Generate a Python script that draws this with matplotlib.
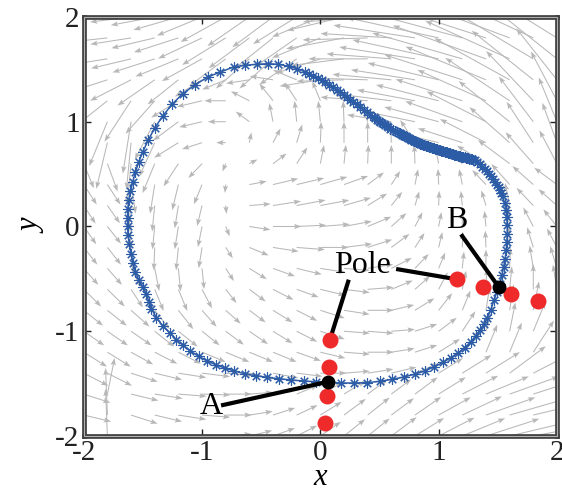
import numpy as np
import matplotlib
matplotlib.use("Agg")
import matplotlib.pyplot as plt
from matplotlib.patches import Rectangle

plt.rcParams['font.family'] = ['Liberation Serif', 'DejaVu Serif']
plt.rcParams['axes.unicode_minus'] = False

# quiver grid (x left->right, y top->bottom)
grid_x = [-2.0, -1.8, -1.6, -1.4, -1.2, -1.0, -0.8, -0.6, -0.4, -0.2, 0.0,
          0.2, 0.4, 0.6, 0.8, 1.0, 1.2, 1.4, 1.6, 1.8, 2.0]
grid_y = [2.0, 1.8, 1.6, 1.4, 1.2, 1.0, 0.8, 0.6, 0.4, 0.2, 0.0,
          -0.2, -0.4, -0.6, -0.8, -1.0, -1.2, -1.4, -1.6, -1.8, -2.0]

# arrow direction (degrees)
arrow_ang = [
    [185, 185, 188, 192, 198, 205, 212, 218, 220, 215, 205, 195, 185, 178, 172, 168, 165, 162, 160, 157, 152],
    [185, 187, 190, 195, 200, 208, 215, 220, 222, 218, 205, 192, 182, 176, 170, 166, 163, 160, 157, 152, 145],
    [188, 190, 195, 200, 205, 212, 220, 225, 225, 218, 200, 188, 180, 175, 170, 166, 162, 158, 153, 146, 138],
    [195, 200, 210, 218, 222, 215, 205, 190, 170, 155, 190, 182, 178, 174, 170, 165, 160, 155, 148, 138, 125],
    [205, 222, 240, 232, 215, 195, 180, 150, 125, 120, 110, 135, 175, 172, 168, 164, 160, 153, 143, 130, 115],
    [225, 250, 262, 245, 220, 195, 180, 140, 100, 95, 95, 92, 110, 170, 167, 163, 158, 150, 138, 124, 110],
    [240, 258, 265, 248, 215, 200, 180, 80, 65, 75, 88, 90, 90, 92, 120, 165, 160, 150, 135, 120, 108],
    [290, 288, 265, 250, 240, 230, 250, 30, 40, 60, 80, 85, 88, 90, 92, 100, 140, 145, 140, 128, 115],
    [300, 300, 278, 262, 258, 250, 265, 12, 15, 15, 18, 22, 40, 60, 80, 92, 100, 130, 128, 135, 140],
    [300, 302, 265, 265, 262, 258, 275, 5, 10, 12, 12, 18, 35, 55, 75, 88, 95, 105, 100, 130, 135],
    [302, 305, 268, 265, 262, 260, 290, 350, 0, 3, 5, 12, 25, 45, 65, 80, 90, 95, 95, 115, 125],
    [305, 305, 275, 268, 265, 262, 300, 335, 350, 355, 0, 8, 20, 40, 60, 78, 88, 92, 92, 105, 115],
    [308, 308, 295, 280, 275, 275, 300, 325, 338, 345, 350, 355, 10, 30, 50, 70, 85, 90, 88, 98, 105],
    [312, 312, 300, 290, 290, 295, 305, 320, 330, 338, 345, 352, 5, 25, 45, 65, 80, 88, 85, 90, 98],
    [318, 318, 315, 305, 305, 308, 315, 320, 325, 330, 340, 350, 0, 15, 35, 55, 70, 82, 82, 80, 85],
    [322, 322, 322, 318, 318, 318, 320, 322, 325, 330, 340, 355, 355, 5, 20, 40, 60, 75, 80, 70, 70],
    [325, 325, 328, 330, 330, 335, 335, 335, 335, 338, 345, 355, 0, 10, 20, 35, 55, 70, 70, 60, 55],
    [330, 330, 340, 345, 350, 352, 355, 345, 348, 352, 0, 5, 10, 15, 25, 35, 35, 35, 40, 30, 25],
    [340, 80, 345, 350, 355, 358, 0, 5, 15, 25, 30, 35, 40, 40, 40, 35, 30, 25, 22, 20, 18],
    [345, 92, 340, 345, 350, 355, 0, 10, 20, 28, 35, 40, 42, 40, 38, 32, 28, 22, 18, 15, 12],
    [350, 92, 340, 345, 350, 355, 5, 15, 22, 30, 38, 42, 42, 40, 35, 30, 25, 20, 15, 12, 10],
]

# arrow length as drawn (data units)
arrow_len = [
    [.35, .35, .35, .38, .40, .42, .45, .45, .45, .45, .45, .50, .55, .60, .70, .80, .85, .90, .90, .85, .75],
    [.35, .35, .35, .38, .40, .42, .45, .45, .45, .45, .45, .50, .55, .60, .70, .80, .85, .90, .85, .80, .70],
    [.35, .35, .35, .38, .40, .40, .40, .40, .40, .40, .40, .45, .50, .55, .65, .75, .80, .85, .80, .75, .65],
    [.35, .35, .40, .40, .35, .28, .22, .20, .20, .22, .35, .40, .45, .50, .55, .62, .70, .75, .75, .70, .60],
    [.35, .40, .45, .40, .28, .22, .18, .18, .20, .20, .20, .28, .40, .45, .50, .55, .60, .65, .68, .62, .52],
    [.35, .45, .50, .40, .28, .20, .15, .15, .18, .20, .20, .20, .20, .38, .42, .48, .52, .58, .58, .52, .45],
    [.38, .45, .45, .35, .25, .18, .08, .10, .15, .18, .20, .20, .20, .20, .25, .35, .40, .45, .48, .45, .40],
    [.25, .28, .40, .30, .25, .18, .08, .08, .15, .18, .18, .18, .18, .18, .18, .18, .25, .30, .35, .38, .35],
    [.22, .22, .28, .28, .25, .20, .08, .15, .22, .24, .24, .22, .18, .15, .15, .15, .15, .18, .25, .25, .25],
    [.20, .20, .25, .25, .22, .20, .08, .18, .24, .25, .25, .24, .20, .16, .14, .14, .14, .15, .22, .22, .22],
    [.20, .20, .22, .22, .22, .20, .10, .18, .24, .25, .25, .24, .22, .18, .15, .14, .14, .15, .20, .20, .20],
    [.20, .20, .22, .22, .22, .20, .12, .18, .22, .24, .24, .24, .22, .20, .16, .15, .15, .16, .20, .20, .20],
    [.20, .20, .20, .22, .22, .20, .14, .18, .20, .22, .22, .22, .22, .20, .18, .16, .16, .18, .20, .22, .22],
    [.22, .22, .20, .22, .22, .20, .16, .18, .20, .20, .22, .22, .22, .20, .18, .18, .18, .20, .22, .24, .24],
    [.22, .22, .22, .22, .22, .20, .18, .18, .20, .20, .22, .22, .22, .20, .20, .20, .20, .22, .25, .28, .28],
    [.22, .22, .22, .22, .22, .20, .20, .20, .20, .20, .22, .22, .22, .20, .20, .20, .22, .25, .28, .30, .30],
    [.24, .24, .22, .22, .22, .22, .22, .22, .22, .22, .22, .22, .22, .20, .20, .22, .25, .28, .30, .35, .38],
    [.24, .24, .24, .24, .24, .24, .24, .22, .22, .22, .22, .22, .22, .22, .22, .25, .30, .35, .40, .45, .45],
    [.24, .35, .24, .24, .24, .24, .22, .20, .20, .20, .22, .22, .22, .22, .25, .28, .35, .40, .45, .50, .50],
    [.24, .45, .24, .24, .24, .24, .22, .20, .20, .20, .22, .24, .25, .25, .28, .32, .38, .45, .50, .55, .55],
    [.24, .45, .24, .24, .24, .24, .22, .20, .20, .20, .22, .24, .25, .28, .30, .35, .40, .48, .52, .58, .60],
]

# trajectory (one loop, starting at A)
curve_x = [0.072, 0.171, 0.283, 0.396, 0.503, 0.607, 0.706, 0.796, 0.881, 0.960,
           1.039, 1.101, 1.163, 1.219, 1.270, 1.312, 1.349, 1.383, 1.411, 1.439,
           1.467, 1.490, 1.509, 1.518, 1.535, 1.549, 1.563, 1.571, 1.577, 1.580,
           1.580, 1.575, 1.569, 1.557, 1.541, 1.530, 1.518, 1.506, 1.493, 1.478,
           1.462, 1.445, 1.428, 1.410, 1.391, 1.370, 1.349, 1.328, 1.307,
           1.29, 1.28, 1.27, 1.26, 1.25, 1.24, 1.23, 1.22, 1.21, 1.20, 1.19, 1.18,
           1.17, 1.16, 1.15, 1.14, 1.13, 1.12, 1.11, 1.10, 1.09,
           1.08, 1.07, 1.06, 1.05, 1.04, 1.03, 1.02, 1.01, 1.00, 0.99, 0.98, 0.97,
           0.96, 0.95, 0.94, 0.93, 0.92, 0.91, 0.90, 0.89,
           0.88, 0.87, 0.86, 0.85, 0.84, 0.83, 0.82, 0.81, 0.80, 0.79, 0.78, 0.77,
           0.76, 0.75, 0.74, 0.73, 0.72, 0.71, 0.70, 0.69, 0.68, 0.67,
           0.661, 0.645, 0.630, 0.610, 0.590, 0.576, 0.562, 0.548, 0.534, 0.520,
           0.506, 0.492, 0.478, 0.464, 0.450, 0.421, 0.393,
           0.365, 0.337, 0.309, 0.280, 0.252, 0.224, 0.196, 0.168, 0.140, 0.107,
           0.074, 0.043, 0.013, -0.022, -0.058, -0.093, -0.128,
           -0.199, -0.269, -0.354, -0.444, -0.537, -0.636, -0.731, -0.844, -0.951, -1.056,
           -1.163, -1.253, -1.332, -1.400, -1.456, -1.501, -1.535, -1.563, -1.586, -1.605,
           -1.619, -1.628, -1.630, -1.630, -1.625, -1.614, -1.600, -1.583, -1.563, -1.535,
           -1.501, -1.470, -1.449, -1.428, -1.385, -1.329, -1.273, -1.216, -1.160, -1.098,
           -1.027, -0.957, -0.886, -0.810, -0.726, -0.641, -0.548, -0.450, -0.351, -0.247,
           -0.140, -0.036, 0.072]
curve_y = [-1.485, -1.494, -1.494, -1.491, -1.478, -1.459, -1.437, -1.411, -1.380, -1.341,
           -1.297, -1.252, -1.208, -1.157, -1.103, -1.049, -0.991, -0.934, -0.870, -0.800,
           -0.705, -0.630, -0.587, -0.546, -0.466, -0.387, -0.307, -0.227, -0.148, -0.069,
           0.011, 0.091, 0.160, 0.224, 0.288, 0.318, 0.346, 0.373, 0.399, 0.426,
           0.453, 0.479, 0.504, 0.527, 0.549, 0.572, 0.594, 0.613, 0.632,
           0.636, 0.640, 0.644, 0.648, 0.651, 0.655, 0.658, 0.661, 0.664, 0.666, 0.668, 0.670,
           0.674, 0.677, 0.680, 0.684, 0.687, 0.690, 0.694, 0.697, 0.701,
           0.704, 0.707, 0.710, 0.714, 0.717, 0.721, 0.724, 0.728, 0.731, 0.735, 0.738, 0.742,
           0.746, 0.749, 0.753, 0.757, 0.761, 0.765, 0.768, 0.772,
           0.776, 0.780, 0.783, 0.787, 0.791, 0.796, 0.802, 0.808, 0.814, 0.819, 0.825, 0.830,
           0.836, 0.842, 0.848, 0.853, 0.859, 0.864, 0.870, 0.876, 0.882, 0.888,
           0.893, 0.903, 0.913, 0.924, 0.934, 0.945, 0.955, 0.966, 0.976, 0.987,
           0.998, 1.009, 1.020, 1.031, 1.043, 1.067, 1.091,
           1.115, 1.141, 1.167, 1.189, 1.211, 1.235, 1.258, 1.282, 1.306, 1.330,
           1.354, 1.375, 1.396, 1.415, 1.434, 1.455, 1.475,
           1.507, 1.529, 1.548, 1.554, 1.548, 1.539, 1.523, 1.475, 1.427, 1.354,
           1.268, 1.167, 1.055, 0.940, 0.823, 0.711, 0.616, 0.520, 0.425, 0.336,
           0.250, 0.164, 0.084, 0.002, -0.084, -0.170, -0.260, -0.348, -0.434, -0.508,
           -0.578, -0.647, -0.717, -0.785, -0.871, -0.953, -1.017, -1.081, -1.134, -1.189,
           -1.240, -1.284, -1.319, -1.351, -1.380, -1.405, -1.424, -1.440, -1.453, -1.465,
           -1.475, -1.482, -1.485]

pole_x = [0.080, 0.075, 0.058, 0.038, 1.152, 1.377, 1.611, 1.842]
pole_y = [-1.084, -1.338, -1.618, -1.879, -0.504, -0.575, -0.644, -0.708]

pt_A = (0.066, -1.482)
pt_B = (1.510, -0.581)

blue = '#2d5ca6'
fs = 23

fig = plt.figure(figsize=(5.62, 4.93), dpi=100)
ax = fig.add_axes([0.149, 0.1156, 0.842, 0.85])

gx, gy = np.meshgrid(grid_x, grid_y)
ang = np.radians(np.array(arrow_ang, dtype=float))
ln = np.array(arrow_len)
ax.quiver(gx, gy, ln * np.cos(ang), ln * np.sin(ang), angles='xy',
          scale_units='xy', scale=1, color='#b8b8b8', width=0.0022,
          headwidth=5, headlength=7, headaxislength=6, zorder=1)

ax.plot(curve_x, curve_y, '-', color=blue, lw=1.1, zorder=3)
ax.plot(curve_x, curve_y, linestyle='none', marker=(8, 2, 0), ms=7.5,
        mec=blue, mew=0.8, zorder=3)

# leader lines
ax.plot([-0.822, pt_A[0]], [-1.704, pt_A[1]], color='k', lw=3, zorder=4)
ax.plot([1.199, pt_B[0]], [-0.091, pt_B[1]], color='k', lw=3, zorder=4)
ax.plot([0.658, 1.152], [-0.409, -0.504], color='k', lw=3, zorder=4)
ax.plot([0.235, 0.080], [-0.527, -1.084], color='k', lw=3, zorder=4)

ax.plot(pole_x, pole_y, 'o', color='#ee2a2a', ms=11.5, mec='none', zorder=5)
ax.plot([pt_A[0], pt_B[0]], [pt_A[1], pt_B[1]], 'o', color='k', ms=9, zorder=6)

ax.text(-0.92, -1.714, 'A', fontsize=fs, ha='center', va='center', zorder=7)
ax.text(1.152, 0.055, 'B', fontsize=fs, ha='center', va='center', zorder=7)
ax.text(0.359, -0.368, 'Pole', fontsize=fs, ha='center', va='center', zorder=7)

ax.set_xlim(-2, 2)
ax.set_ylim(-2, 2)
ax.set_xticks([-2, -1, 0, 1, 2])
ax.set_yticks([-2, -1, 0, 1, 2])
ax.tick_params(direction='in', length=5, width=1, top=True, right=True,
               labelsize=21, pad=3, colors='#222222')
for s in ax.spines.values():
    s.set_linewidth(3.4)
    s.set_color('#404040')
ax.add_patch(Rectangle((0, 0), 1, 1, transform=ax.transAxes, fill=False,
                       lw=0.8, ec='#b0b0b0', clip_on=False, zorder=10))
ax.set_xlabel('x', fontsize=22, style='italic', va='bottom')
ax.xaxis.set_label_coords(0.5, -0.133)
ax.set_ylabel('y', fontsize=22, style='italic', labelpad=6)

fig.savefig('out.png', dpi=100)
